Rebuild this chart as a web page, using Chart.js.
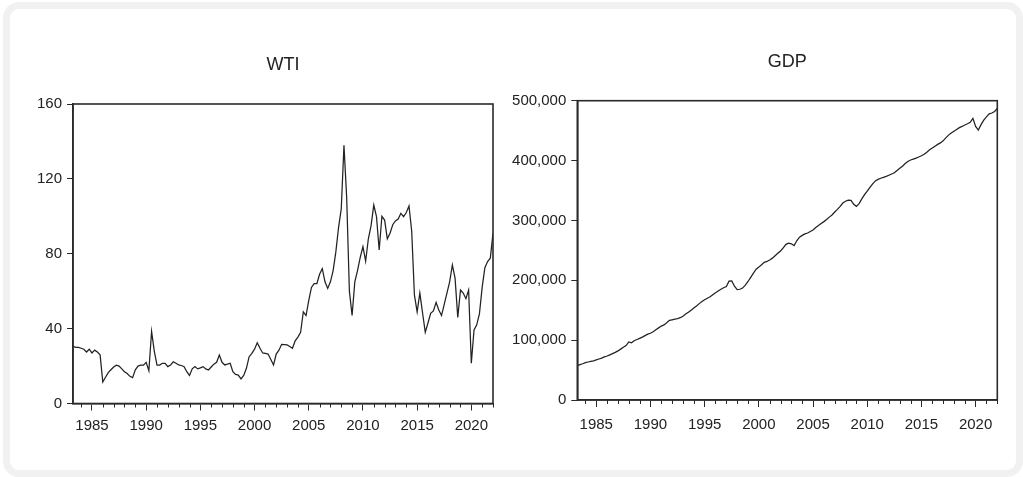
<!DOCTYPE html>
<html><head><meta charset="utf-8">
<script src="https://cdn.jsdelivr.net/npm/chart.js@4"></script>
<style>
html,body{margin:0;padding:0;background:#fff;width:1023px;height:477px;overflow:hidden}
#card{position:absolute;left:3px;top:2px;width:1020px;height:475px;box-sizing:border-box;border:7px solid #f1f1f1;border-radius:16px;}
#c1{position:absolute;left:0;top:0}
#c2{position:absolute;left:500px;top:0}
</style></head><body>
<div id="card"></div>
<canvas id="c1" width="500" height="477"></canvas>
<canvas id="c2" width="523" height="477"></canvas>
<script>
// Quarterly observations, 1983Q2 .. 2022Q1
const startYear = 1983, startQuarter = 2, nObs = 156;
const quarters = [];
for (let i = 0; i < nObs; i++) {
  const q = (startQuarter - 1 + i) % 4 + 1;
  const y = startYear + Math.floor((startQuarter - 1 + i) / 4);
  quarters.push(y + 'Q' + q);
}
const yearTicks = [1985, 1990, 1995, 2000, 2005, 2010, 2015, 2020];
const wtiTicks = [0, 40, 80, 120, 160];
const gdpTicks = [0, 100000, 200000, 300000, 400000, 500000];

const wti = [
30.5,30,30,29.5,29,27.5,29,27,28.5,27.5,26,11.5,14,16.5,18,19.5,20.5,20,18.5,17,
16,14.5,13.8,18,20,20.5,20.5,22,17.5,38.5,28,20.5,20.5,21.5,21.5,19.7,20.5,22.3,21.5,20.6,
20.3,19.7,17,15,18.5,19.7,18.5,19,19.7,18.5,17.9,19.5,21,22,25.9,22,20.6,21,21.5,17,
15.5,15.2,13.1,15,18.8,25,26.8,29,32.5,29.5,27,26.8,26.4,23.5,20.6,26.4,28.5,31.6,31.5,31.3,
30.5,29.5,33.5,35.5,38,49,47,55,62,64,64,69,72,65,61.5,65,71,81,94,104,
138,110,60,47,65,71,78,83.8,76,88,95,106,99.8,82,100,98,88,91,95.5,97.5,
98.5,101.6,99.8,102,105.5,92,58,49,59,48.5,38,43,48.2,49.5,54,50,47,53,59,65,
74,67,46,60.6,59,56,60.6,21.5,39.3,42,48,62,72.5,75.8,77.6,91
];
const gdp = [
57.5,59,60.5,62.5,63.5,64.5,65.5,67,68.5,70,72,73.5,75.5,77.5,79.5,82,85,88,91,97,
95.5,99,101,103,105,107.5,110,111.5,114,117.5,120.5,123.5,125.5,129,133,134,135,136,137.5,140,
143.5,146.5,150,153.5,157,161,164.5,167.5,170,172.5,176,179,182,185,187.5,189.5,198.5,199,190,184.5,
185,187,192,198,205,212,218.5,222,226,230,231.5,234,237,241,245,249,254,260,262,261,
258,266,272,275,277.5,279,281.5,284,288,291.5,295,298,301.5,305.5,309,314,318.5,323.5,329,332,
334,333.5,327,323.5,328,336,343,349,355,361,366,368.5,370.5,372,373.5,375.5,377.5,379.5,383.5,387,
390.5,395,398.5,401,402.5,404,406,408,410.5,414,418,421,424,427,429.5,433,438,442.5,446,449,
452,455,457,459.5,461.5,464,470.5,457,451,460,467.5,473,478,479.5,482,487
].map(v => v * 1000);

function qToX(label) {
  const [y, q] = label.split('Q').map(Number);
  return y + (q - 1) / 4;
}
function series(vals) { return quarters.map((l, i) => ({x: qToX(l), y: vals[i]})); }

const FONT = "'Liberation Sans', Arial, sans-serif";
const INK = '#222';

const decor = {
  id: 'decor',
  afterDraw(chart) {
    const ctx = chart.ctx, a = chart.chartArea, xs = chart.scales.x;
    ctx.save();
    ctx.strokeStyle = '#2a2a2a';
    ctx.lineWidth = 1;
    for (let yr = Math.ceil(xs.min); yr <= Math.floor(xs.max); yr++) {
      if (yr % 5 === 0) continue;
      const px = Math.round(xs.getPixelForValue(yr)) + 0.5;
      ctx.beginPath(); ctx.moveTo(px, a.bottom); ctx.lineTo(px, a.bottom + 4); ctx.stroke();
    }
    ctx.lineWidth = 1.6;
    ctx.strokeRect(a.left, a.top, a.right - a.left, a.bottom - a.top);
    ctx.restore();
  }
};

function makeChart(id, title, vals, yTicks, yMax, fmt, geo) {
  new Chart(document.getElementById(id), {
    type: 'line',
    data: { datasets: [{ data: series(vals), borderColor: INK, borderWidth: 1.25, pointRadius: 0, tension: 0, fill: false }] },
    options: {
      responsive: false, animation: false, devicePixelRatio: 1,
      layout: { padding: { left: 0, right: geo.right, top: 0, bottom: geo.bottom } },
      plugins: {
        legend: { display: false }, tooltip: { enabled: false },
        title: { display: true, text: title, fullSize: false, color: INK,
          font: { family: FONT, size: 18, weight: 'normal' },
          padding: { top: geo.tTop, bottom: geo.tBottom } }
      },
      scales: {
        x: {
          type: 'linear', min: 1983.25, max: 2022,
          afterBuildTicks: s => { s.ticks = yearTicks.map(v => ({ value: v })); },
          afterFit: s => { s.height = 40; },
          ticks: { color: INK, font: { family: FONT, size: 15 }, padding: geo.xPad, maxRotation: 0, autoSkip: false,
            callback: v => String(v) },
          grid: { display: true, drawOnChartArea: false, drawTicks: true, tickLength: 7, color: '#2a2a2a', lineWidth: 1 },
          border: { display: true, color: '#2a2a2a', width: 1.6 }
        },
        y: {
          min: 0, max: yMax,
          afterBuildTicks: s => { s.ticks = yTicks.map(v => ({ value: v })); },
          afterFit: s => { s.width = geo.yWidth; },
          ticks: { color: INK, font: { family: FONT, size: 15 }, padding: 5, callback: fmt },
          grid: { display: true, drawOnChartArea: false, drawTicks: true, tickLength: 6, color: '#2a2a2a', lineWidth: 1 },
          border: { display: true, color: '#2a2a2a', width: 1.6 }
        }
      }
    },
    plugins: [decor]
  });
}

makeChart('c1', 'WTI', wti, wtiTicks, 160, v => String(v),
  { right: 7, bottom: 33.5, yWidth: 73, tTop: 54.5, tBottom: 27.9, xPad: 6 });
makeChart('c2', 'GDP', gdp, gdpTicks, 500000, v => v.toLocaleString('en-US'),
  { right: 25.7, bottom: 37, yWidth: 77.3, tTop: 51.7, tBottom: 27.4, xPad: 9 });
</script>
</body></html>
